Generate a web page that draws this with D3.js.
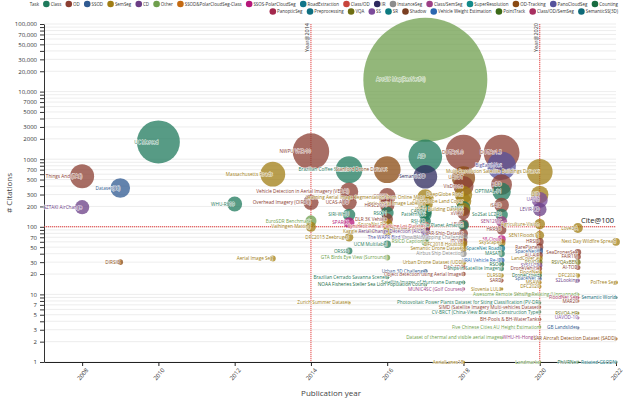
<!DOCTYPE html>
<html><head><meta charset="utf-8">
<script src="https://cdn.jsdelivr.net/npm/d3@7"></script>
<style>
body{margin:0;background:#fff}
svg text{font-family:"Open Sans","Noto Sans",sans-serif}
</style>
</head><body>
<svg id="c" width="640" height="400"></svg>
<script>
// ---------- categories ----------
const taskNames = ["Class","OD","SSOD","SemSeg","CD","Other","SSOD&PolarCloudSeg-Class","SSOS-PolarCloudSeg",
  "RoadExtraction","Class/OD","IR","InstanceSeg","Class/SemSeg","SuperResolution","OD-Tracking","PanoCloudSeg","Counting",
  "PanopticSeg","Preprocessing","VQA","SS","SR","Shadow","Vehicle Weight Estimation","PointTrack","Class/OD/SemSeg","SemanticSS(3D)"];
const taskColors = ["#1f7a5c","#8b3e32","#2f5a91","#a07d14","#6a3d85","#6f9f4d","#c46a12","#b5177a",
  "#11768a","#c8453c","#2e2a5e","#8c8c8c","#9c3f86","#138a8a","#8a4a12","#55529c","#176b3f",
  "#a3274c","#0f6f80","#6e6e12","#7b4a9a","#0d7a80","#7a3f22","#2a66b0","#3b6a18","#a83060","#0e6a78"];
const legendRow1 = taskNames.slice(0,17);
const legendRow2 = taskNames.slice(17);

// ---------- datasets ----------
const datasetNames = [
 "Things And (TAS)","SZTAKI AirChange",
 "Dataset(SS)","DIRSIG",
 "UC Merced",
 "WHU-RS19",
 "Massachusetts Roads","Aerial Image Seg",
 "NWPU VHR-10","Overhead Imagery (OIRDS)","EuroSDR Benchmark","Vaihingen Matting",
 "Brazilian Coffee Scenes","Vehicle Detection in Aerial Imagery (VEDAI)","UCAS-AOD","SPARCS","DFC2015 Zeebruges","ORSSD","Zurich Summer Dataset","SIRI-WHU",
 "Stanford Drone Dataset","COWC","HRSC2016","RSC11","DLR 3K Vehicle","SpaceNet Rio","Kaggle Dstl Features","GTA Birds Eye View (Surround)","UCM Multilabel","Brazilian Cerrado Savanna Scenes",
 "ArcGIS Map(ResNet50)","AID","Semantic3D","Learning Aerial Image Segmentation from Online Maps","Inria Aerial Image Labeling","PatternNet","CARPK","RSI-CB","Synthetic Aerial Parking Lot Dataset","Aerial Change Detection (AICD)","The WAPR Bird View Study","Okutama-Action","Urban 3D Challenge","NOAA Fisheries Steller Sea Lion Population Count","RSICD Captions",
 "DOTAv1.0","UAVDT","VisDrone","DeepGlobe Road","DeepGlobe Land Cover","fMoW","xView","WHU Building Dataset","LEVIR","Kaggle Planet Amazon","DFC2018 Houston","CrowdAI Mapping Challenge","SAR-Ship-Dataset","ITCVD","Semantic Drone Dataset","Airbus Ship Detection","Urban Drone Dataset (UDD)","DAC-SDC","Object detection using Aerial Images","Satellite Images of Hurricane Damage","MUNIC4SC (Golf Courses)","AerialLanes18",
 "DOTAv1.5","BigEarthNet","xBD","OPTIMAL-31","iSAID","So2Sat LCZ42","SEN12MS","HRRSD","38-Cloud","SkyScapes","SpaceNet Roads","MASATI","VRAI Vehicle Re-ID","RSOC","Ships in Satellite Imagery","DLRSD","SARD","Slovenia LULC","Dataset of thermal and visible aerial images",
 "Multi-Resolution Satellite Buildings Dataset","GID","UAVid","LEVIR-CD","Agriculture-Vision","SEN1Floods11","HRSID","RarePlanes","SpaceNet 6","AU-AIR","LandCover.ai","RSVQA","SYSU-CD","DroneVehicle","FloodNet","DroneCrowd","SpaceNet 7","MSAW","DFC2020","MiniFrance","Photovoltaic Power Plants Dataset for Siting Classification (PV-DR)","SIMD (Satellite Imagery Multi-vehicles Dataset)","CV-BRCT (China-View Brazilian Construction Type)","BH-Pools & BH-WaterTanks","Five Chinese Cities AU Height Estimation","WHU-Hi-HongHu","Landmarks",
 "LoveDA","SeaDronesSee","FAIR1M","RSVQAxBEN","AI-TOD","DFC2021","S2Looking","Awesome Remote Sensing Relating (Unmanned)","FloodNet Seg","MAR20","RSVQA-HR","UAVOD-10","GB Landslides","PhiVRNet",
 "Next Day Wildfire Spread","PolTree Seg","Semantic World","SAR Aircraft Detection Dataset (SADD)","Rotated GSODN"
];
const datasetYears = [
 2008,2008,
 2009,2009,
 2010,
 2012,
 2013,2013,
 2014,2014,2014,2014,
 2015,2015,2015,2015,2015,2015,2015,2015,
 2016,2016,2016,2016,2016,2016,2016,2016,2016,2016,
 2017,2017,2017,2017,2017,2017,2017,2017,2017,2017,2017,2017,2017,2017,2017,
 2018,2018,2018,2018,2018,2018,2018,2018,2018,2018,2018,2018,2018,2018,2018,2018,2018,2018,2018,2018,2018,2018,
 2019,2019,2019,2019,2019,2019,2019,2019,2019,2019,2019,2019,2019,2019,2019,2019,2019,2019,2019,
 2020,2020,2020,2020,2020,2020,2020,2020,2020,2020,2020,2020,2020,2020,2020,2020,2020,2020,2020,2020,2020,2020,2020,2020,2020,2020,2020,
 2021,2021,2021,2021,2021,2021,2021,2021,2021,2021,2021,2021,2021,2021,
 2022,2022,2022,2022,2022
];
const datasetCitations = [
 560,195,
 375,30,
 1800,
 218,
 600,34,
 1300,230,122,100,
 700,330,230,115,70,44,7.5,150,
 700,280,210,160,130,110,85,35,55,18,
 15000,1100,550,270,220,150,170,120,100,85,70,90,22,14,60,
 1250,530,400,300,240,190,160,180,110,105,55,70,80,60,48,40,30,25,20,15,12,1,
 1250,800,420,330,210,150,120,90,65,58,48,40,32,28,24,19,16,12,2.3,
 650,300,250,180,110,75,60,50,44,38,34,30,27,24,21,19,17,15,13,10,7.5,6.5,5.5,4.3,3.3,2.3,1,
 96,42,36,30,25,19,16,10,9,8,5.3,4.5,3.2,1,
 60,15,9,2.2,1
];
const datasetTasks = [
 "OD","CD",
 "SSOD","OD-Tracking",
 "Class",
 "Class",
 "SemSeg","SemSeg",
 "OD","OD","Other","SemSeg",
 "Class","OD","OD","SSOS-PolarCloudSeg","SemSeg","Class","SemSeg","Class",
 "OD-Tracking","OD","OD","Class","OD","SemSeg","SemSeg","Other","Class","Class",
 "Other","Class","IR","SemSeg","SemSeg","Class","Counting","Class","Class/OD","CD","PanoCloudSeg","OD-Tracking","SSOD","Counting","Other",
 "OD","OD-Tracking","OD","SemSeg","SemSeg","Class","OD","SemSeg","OD","Class","SemSeg","InstanceSeg","OD","OD","SemSeg","InstanceSeg","SemSeg","OD","OD","Class","Class/SemSeg","SemSeg",
 "OD","PanoCloudSeg","OD","Class","OD","Class","Class/SemSeg","OD","SSOS-PolarCloudSeg","SemSeg","RoadExtraction","Class","Vehicle Weight Estimation","Counting","Class","SemSeg","OD","SemSeg","Other",
 "SemSeg","SemSeg","SS","CD","SemSeg","SemSeg","OD","OD","SSOD","OD","SemSeg","VQA","CD","OD","SemSeg","Counting","SSOD","SemSeg","SemSeg","SemSeg","Class","OD","Class","OD","Other","Class/SemSeg","Other",
 "SemSeg","OD","OD","VQA","OD","SemSeg","CD","Other","Class/OD/SemSeg","OD","VQA","SS","SSOD","Counting",
 "SemSeg","SemSeg","SemanticSS(3D)","OD-Tracking","SR"
];

// ---------- axes ----------
const xTickYears = [2008,2010,2012,2014,2016,2018,2020,2022];
const yTickValues = [];
for (let k = 0; k <= 5; k++) for (let m = 1; m <= 9; m++) { const v = m * Math.pow(10, k); if (v <= 100000) yTickValues.push(v); }
const yLabelLeads = [1,2,3,5,7];
const refYears = [2014, 2020];
const refCitation = 100;

// ---------- drawing ----------
const svg = d3.select("#c");
const x = d3.scaleLinear().domain([2007, 2022]).range([44, 616]);
const y = d3.scaleLog().domain([1, 100000]).range([362, 24]);
const r = d3.scaleSqrt().domain([0, 15000]).range([0, 62]);
const color = d3.scaleOrdinal().domain(taskNames).range(taskColors);

// grid
svg.append("g").selectAll("line").data(yTickValues).join("line")
  .attr("x1", 44).attr("x2", 616).attr("y1", d => y(d)).attr("y2", d => y(d))
  .attr("stroke", "#e9e9e9").attr("stroke-width", 0.8);

// y axis
const fmtY = v => {
  const lead = Math.round(v / Math.pow(10, Math.floor(Math.log10(v) + 1e-9)));
  if (!yLabelLeads.includes(lead)) return "";
  return v >= 10000 ? d3.format(",")(v) : String(v);
};
const gy = svg.append("g").attr("transform", "translate(44,0)")
  .call(d3.axisLeft(y).tickValues(yTickValues).tickFormat(fmtY).tickSize(4).tickSizeOuter(0));
gy.selectAll("text").attr("font-size", 6).attr("fill", "#333");
gy.selectAll("line,path").attr("stroke", "#333");

// x axis
const gx = svg.append("g").attr("transform", "translate(0,362)")
  .call(d3.axisBottom(x).tickValues(xTickYears).tickFormat(d3.format("d")).tickSize(4).tickSizeOuter(0));
gx.selectAll("line,path").attr("stroke", "#222");
gx.select("path").attr("stroke-width", 1.2);
gx.selectAll("text").attr("font-size", 6).attr("fill", "#333")
  .attr("text-anchor", "end").attr("transform", "rotate(-50)").attr("dx", "-0.4em").attr("dy", "0.5em");

// axis titles
svg.append("text").attr("transform", "translate(12,193) rotate(-90)").attr("text-anchor", "middle")
  .attr("font-size", 8).attr("fill", "#444").text("# Citations");
svg.append("text").attr("x", 331).attr("y", 396).attr("text-anchor", "middle")
  .attr("font-size", 8).attr("fill", "#444").text("Publication year");

// reference lines
svg.append("g").selectAll("line").data(refYears).join("line")
  .attr("x1", d => x(d)).attr("x2", d => x(d)).attr("y1", 24).attr("y2", 362)
  .attr("stroke", "#e33b3b").attr("stroke-width", 1.1).attr("stroke-dasharray", "1.2,0.8").attr("opacity", 0.85);
svg.append("line").attr("x1", 44).attr("x2", 616).attr("y1", y(refCitation)).attr("y2", y(refCitation))
  .attr("stroke", "#e33b3b").attr("stroke-width", 1.1).attr("stroke-dasharray", "1.2,0.8");
svg.append("g").selectAll("text").data(refYears).join("text")
  .attr("transform", d => `translate(${x(d) - 2},23) rotate(-90)`).attr("text-anchor", "end")
  .attr("font-size", 5.5).attr("fill", "#333").text(d => "Year@" + d);
svg.append("text").attr("x", 614).attr("y", y(refCitation) - 4).attr("text-anchor", "end")
  .attr("font-size", 7.5).attr("fill", "#222").text("Cite@" + refCitation);

// bubbles
const data = datasetNames.map((n, i) => ({name: n, year: datasetYears[i], cites: datasetCitations[i], task: datasetTasks[i]}))
  .sort((a, b) => b.cites - a.cites);
svg.append("g").selectAll("circle").data(data).join("circle")
  .attr("cx", d => x(d.year)).attr("cy", d => y(d.cites)).attr("r", d => Math.max(1.6, r(d.cites)))
  .attr("fill", d => color(d.task)).attr("fill-opacity", 0.75);
svg.append("g").selectAll("text").data(data).join("text")
  .attr("x", d => x(d.year)).attr("y", d => y(d.cites) + 1.6).attr("text-anchor", "end")
  .attr("font-size", 4.7).attr("fill", d => color(d.task))
  .attr("stroke", "#fff").attr("stroke-width", 0.9).attr("paint-order", "stroke").attr("stroke-opacity", 0.9)
  .text(d => d.name);

// legend (font size fitted so the first row spans x = 25 .. 618)
const LEG_CIRCLE = 3.3, LEG_TXT = 7.6, LEG_GAP = 4.2, LEG_LEAD_GAP = 4, LEG_LEFT = 25, LEG_RIGHT = 618;
function measure(str, f) {
  const t = svg.append("text").attr("font-size", f).text(str);
  const w = t.node().getComputedTextLength(); t.remove(); return w;
}
const f0 = 10;
const textSum1 = legendRow1.reduce((s, n) => s + measure(n, f0), 0) + measure("Task", f0);
const fixed1 = legendRow1.length * (LEG_TXT + LEG_GAP) + LEG_LEAD_GAP;
const legFont = Math.min(5.6, f0 * (LEG_RIGHT - LEG_LEFT - fixed1) / textSum1);
function legendRow(items, yPos, lead) {
  const g = svg.append("g");
  let cx = 0;
  if (lead) { const t = g.append("text").attr("x", cx).attr("y", yPos + 1.8).attr("font-size", legFont).attr("fill", "#333").text(lead); cx += t.node().getComputedTextLength() + LEG_LEAD_GAP; }
  items.forEach(name => {
    g.append("circle").attr("cx", cx + LEG_CIRCLE).attr("cy", yPos).attr("r", LEG_CIRCLE).attr("fill", color(name));
    const t = g.append("text").attr("x", cx + LEG_TXT).attr("y", yPos + 1.8).attr("font-size", legFont).attr("fill", "#333").text(name);
    cx += LEG_TXT + t.node().getComputedTextLength() + LEG_GAP;
  });
  g.attr("transform", `translate(${LEG_RIGHT + LEG_GAP - cx},0)`);
}
legendRow(legendRow1, 4, "Task");
legendRow(legendRow2, 11.5, null);
</script>
</body></html>
